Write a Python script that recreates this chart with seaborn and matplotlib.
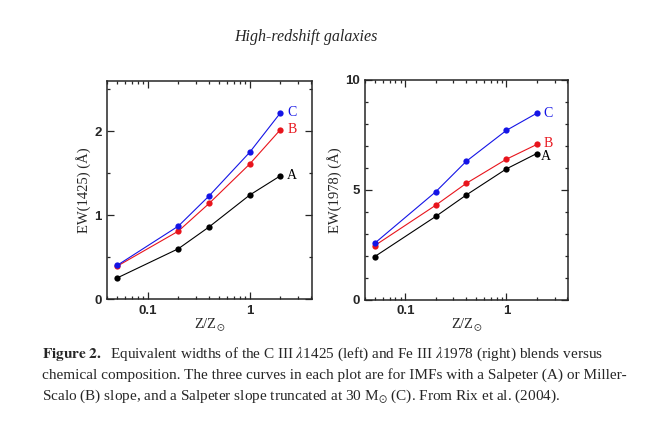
import matplotlib
matplotlib.use("Agg")
import matplotlib.pyplot as plt
import matplotlib.ticker as mticker
import seaborn as sns

# metallicity grid (Z / Z_sun)
z = [0.05, 0.2, 0.4, 1.0, 2.0]

# C III 1425 equivalent widths (A)
ew1425_a = [0.25, 0.60, 0.86, 1.24, 1.47]
ew1425_b = [0.39, 0.81, 1.14, 1.61, 2.02]
ew1425_c = [0.40, 0.87, 1.23, 1.75, 2.22]

# Fe III 1978 equivalent widths (A)
ew1978_a = [1.97, 3.79, 4.76, 5.95, 6.65]
ew1978_b = [2.47, 4.30, 5.29, 6.39, 7.06]
ew1978_c = [2.58, 4.91, 6.29, 7.70, 8.48]

curve_names = ["A", "B", "C"]
curve_colors = ["black", "#e8141c", "#1414e6"]

sns.set_style("ticks")
plt.rcParams["font.family"] = ["Liberation Serif", "DejaVu Serif"]
plt.rcParams["mathtext.fontset"] = "stix"

fig = plt.figure(figsize=(6.45, 4.29), dpi=100)
ax1 = fig.add_axes([0.166, 0.303, 0.318, 0.508])
ax2 = fig.add_axes([0.566, 0.301, 0.315, 0.513])


def draw_panel(ax, series, ylim, major, minor, ylabel, offsets):
    for vals, name, col, off in zip(series, curve_names, curve_colors, offsets):
        sns.lineplot(x=z, y=vals, ax=ax, color=col, marker="o", markersize=4.5,
                     markeredgewidth=0, linewidth=0.8)
        ax.annotate(name, xy=(z[-1], vals[-1]), xytext=off, textcoords="offset points",
                    color=col, fontsize=10, va="center", ha="left")
    ax.set_xscale("log")
    ax.set_xlim(0.04, 4.1)
    ax.set_ylim(*ylim)
    ax.xaxis.set_major_locator(mticker.FixedLocator([0.1, 1]))
    ax.xaxis.set_major_formatter(mticker.FixedFormatter(["0.1", "1"]))
    ax.xaxis.set_minor_locator(mticker.LogLocator(base=10, subs=range(2, 10)))
    ax.xaxis.set_minor_formatter(mticker.NullFormatter())
    ax.yaxis.set_major_locator(mticker.MultipleLocator(major))
    ax.yaxis.set_minor_locator(mticker.MultipleLocator(minor))
    ax.tick_params(which="both", direction="in", top=True, right=True, width=0.9)
    ax.tick_params(which="major", length=5, labelsize=9.5, pad=4)
    ax.tick_params(which="minor", length=2.5)
    for lab in ax.get_xticklabels() + ax.get_yticklabels():
        lab.set_family("Liberation Sans")
        lab.set_fontweight("bold")
    for sp in ax.spines.values():
        sp.set_linewidth(1.1)
    ax.set_xlabel(r"Z/Z$_{\odot}$", fontsize=10.5, labelpad=0)
    ax.set_ylabel(ylabel, fontsize=10.5, labelpad=2)


draw_panel(ax1, [ew1425_a, ew1425_b, ew1425_c], (0, 2.6), 1, 0.5,
           "EW(1425) (Å)", [(5, 0), (5, 0), (5, 0)])
draw_panel(ax2, [ew1978_a, ew1978_b, ew1978_c], (0, 10), 5, 1,
           "EW(1978) (Å)", [(3, -2), (5, 1), (5, 0)])

fig.text(306 / 645, 1 - 37 / 429, "High-redshift galaxies", style="italic",
         fontsize=11.5, ha="center", va="center")

caption = [
    r"$\mathbf{Figure\ 2.}$  Equivalent widths of the C III $\lambda$1425 (left) and Fe III $\lambda$1978 (right) blends versus",
    "chemical composition. The three curves in each plot are for IMFs with a Salpeter (A) or Miller-",
    r"Scalo (B) slope, and a Salpeter slope truncated at 30 M$_{\odot}$ (C). From Rix et al. (2004).",
]
for i, line in enumerate(caption):
    fig.text(42 / 645, 1 - (354 + 21.3 * i) / 429, line, fontsize=11.0,
             ha="left", va="center")

fig.savefig("out.png", dpi=100)
